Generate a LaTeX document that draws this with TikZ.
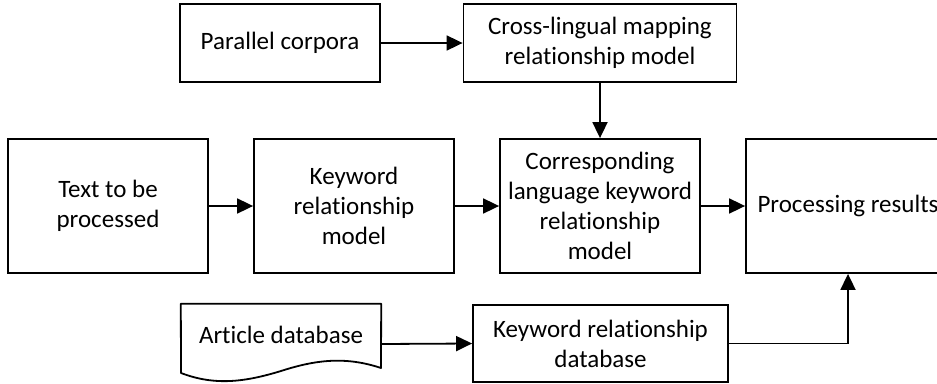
\documentclass[tikz,border=0pt]{standalone}
\usepackage{fontspec}
\setmainfont[RawFeature=-liga]{Carlito}
\usetikzlibrary{arrows.meta}
\begin{document}
\begin{tikzpicture}[x=1pt,y=-1pt,
  box/.style={draw,line width=1.8pt,rectangle,align=center,inner sep=0pt,
    font=\fontsize{25}{30}\selectfont},
  arr/.style={line width=1.8pt,-{Triangle[length=16pt,width=15pt]}},
  lbl/.style={align=center,inner sep=0pt,font=\fontsize{25}{30}\selectfont}]
\useasboundingbox (0,0) rectangle (937,383);
\node[box,minimum width=200pt,minimum height=78pt] (pc) at (280,43) {Parallel corpora};
\node[box,minimum width=273pt,minimum height=78pt] (clm) at (600,43) {Cross-lingual mapping\\relationship model};
\node[box,minimum width=200pt,minimum height=134pt] (txt) at (108,206) {Text to be\\processed};
\node[box,minimum width=200pt,minimum height=134pt] (krm) at (354,206) {Keyword\\relationship\\model};
\node[box,minimum width=200pt,minimum height=134pt] (clk) at (600,206) {Corresponding\\language keyword\\relationship\\model};
\node[box,minimum width=204pt,minimum height=134pt] (pr) at (848,206) {Processing results};
\node[draw=none,minimum width=200pt,minimum height=80pt,inner sep=0pt] (doc) at (281,344) {};
\node[lbl] (doct) at (281,335) {Article database};
\node[box,minimum width=255pt,minimum height=77pt] (krd) at (600.5,343.5) {Keyword relationship\\database};
\draw[line width=1.8pt,line join=round] (doc.north west) -- (doc.north east) -- (381,368)
  .. controls (345,356) and (315,360) .. (281,371)
  .. controls (245,382) and (215,386) .. (181,373) -- cycle;
\draw[arr] (pc) -- (clm);
\draw[arr] (clm) -- (clk);
\draw[arr] (txt) -- (krm);
\draw[arr] (krm) -- (clk);
\draw[arr] (clk) -- (pr);
\draw[arr] (doc.east) -- (krd.west);
\draw[arr] (krd.east) -| (pr.south);
\end{tikzpicture}
\end{document}
